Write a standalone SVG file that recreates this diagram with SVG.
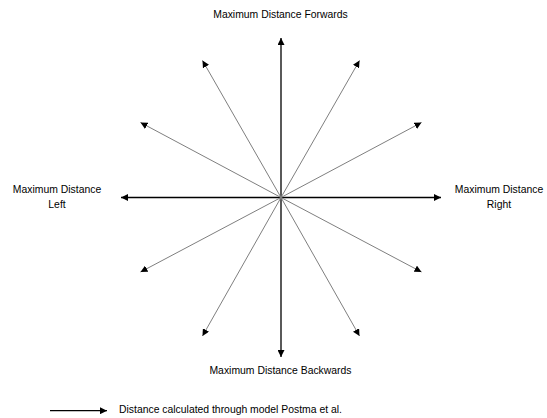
<svg xmlns="http://www.w3.org/2000/svg" width="547" height="418" viewBox="0 0 547 418">
<defs>
<style>
text{font-family:"Liberation Sans",Arial,sans-serif;font-size:10.4px;fill:#000}
.lbl{text-anchor:middle}
.main{stroke:#000;stroke-width:1.3;fill:none}
.diag{stroke:#7f7f7f;stroke-width:1;fill:none}
</style>
<marker id="ah" markerUnits="userSpaceOnUse" markerWidth="8" markerHeight="7" refX="7" refY="3.5" orient="auto">
<path d="M0,0 L7,3.5 L0,7 Z" fill="#000"/>
</marker>
</defs>
<rect width="547" height="418" fill="#fff"/>
<g id="connectors">
<line class="main" x1="281" y1="197.5" x2="281" y2="38" marker-end="url(#ah)"/>
<line class="main" x1="281" y1="197.5" x2="281" y2="357" marker-end="url(#ah)"/>
<line class="main" x1="281" y1="197.5" x2="121" y2="197.5" marker-end="url(#ah)"/>
<line class="main" x1="281" y1="197.5" x2="441" y2="197.5" marker-end="url(#ah)"/>
<line class="diag" x1="281" y1="197.5" x2="202.5" y2="60.5" marker-end="url(#ah)"/>
<line class="diag" x1="281" y1="197.5" x2="359.5" y2="60.5" marker-end="url(#ah)"/>
<line class="diag" x1="281" y1="197.5" x2="140.5" y2="122.5" marker-end="url(#ah)"/>
<line class="diag" x1="281" y1="197.5" x2="421.5" y2="122.5" marker-end="url(#ah)"/>
<line class="diag" x1="281" y1="197.5" x2="140.5" y2="272" marker-end="url(#ah)"/>
<line class="diag" x1="281" y1="197.5" x2="421.5" y2="272" marker-end="url(#ah)"/>
<line class="diag" x1="281" y1="197.5" x2="202.5" y2="336" marker-end="url(#ah)"/>
<line class="diag" x1="281" y1="197.5" x2="359.5" y2="336" marker-end="url(#ah)"/>
<line class="main" x1="50" y1="410.7" x2="107" y2="410.7" marker-end="url(#ah)"/>
</g>
<g id="forwards"><text class="lbl" x="280.5" y="18">Maximum Distance Forwards</text></g>
<g id="left"><text class="lbl" x="57" y="193.3">Maximum Distance</text><text class="lbl" x="57" y="207.5">Left</text></g>
<g id="right"><text class="lbl" x="499" y="193.3">Maximum Distance</text><text class="lbl" x="499" y="207.5">Right</text></g>
<g id="backwards"><text class="lbl" x="280.5" y="373.5">Maximum Distance Backwards</text></g>
<g id="legend"><text x="119" y="412.7">Distance calculated through model Postma et al.</text></g>
</svg>
